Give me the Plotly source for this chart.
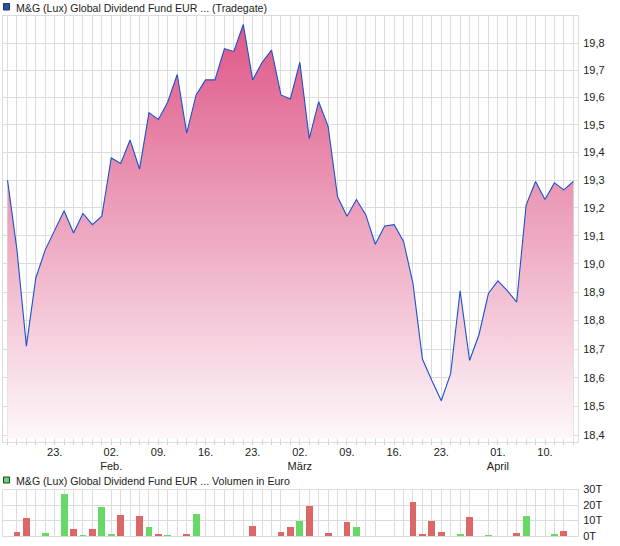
import plotly.graph_objects as go

# ---------------- data ----------------
price = [19.30, 19.05, 18.71, 18.95, 19.05, 19.12, 19.19, 19.11, 19.18, 19.14,
         19.17, 19.38, 19.36, 19.445, 19.34, 19.545, 19.52, 19.585, 19.685, 19.47,
         19.61, 19.665, 19.665, 19.78, 19.77, 19.87, 19.665, 19.73, 19.775, 19.61,
         19.595, 19.73, 19.45, 19.585, 19.495, 19.24, 19.17, 19.23, 19.175, 19.07,
         19.135, 19.14, 19.08, 18.93, 18.665, 18.59, 18.52, 18.615, 18.905, 18.66,
         18.75, 18.895, 18.94, 18.905, 18.865, 19.21, 19.295, 19.23, 19.29, 19.265,
         19.295]

# volume in thousands of euro (T)
volume = [0, 3.0, 12.0, 0, 2.3, 0, 27.2, 4.9, 0.5, 5.0,
          19.0, 1.7, 13.8, 0, 13.2, 6.2, 1.7, 1.0, 0, 1.7,
          14.4, 0, 0, 0, 0, 0, 6.7, 0, 0, 3.0,
          6.1, 9.9, 19.5, 0, 2.3, 0, 9.2, 6.1, 0, 0,
          0, 0, 0, 22.0, 1.7, 9.9, 3.0, 0, 1.7, 12.5,
          0, 1.0, 0, 0, 2.3, 13.2, 0, 0, 1.7, 3.5,
          0]

tick_pos = [5, 11, 16, 21, 26, 31, 36, 41, 46, 52, 57]
tick_text = ["23.", "02.<br>Feb.", "09.", "16.", "23.", "02.<br>März", "09.",
             "16.", "23.", "01.<br>April", "10."]

y_ticks = [18.4, 18.5, 18.6, 18.7, 18.8, 18.9, 19.0, 19.1, 19.2, 19.3,
           19.4, 19.5, 19.6, 19.7, 19.8]
vol_ticks = [0, 10, 20, 30]
vol_tick_text = ["0T", "10T", "20T", "30T"]

title_main = "M&G (Lux) Global Dividend Fund EUR ... (Tradegate)"
title_vol = "M&G (Lux) Global Dividend Fund EUR ... Volumen in Euro"

fill_base = 18.39
# --------------------------------------

idx = list(range(len(price)))
GRID = "#dcdcdc"
FONT = "Arial, Liberation Sans, sans-serif"
TXT = "#222222"

bar_colors = []
for i, v in enumerate(price):
    prev = price[i - 1] if i > 0 else v
    bar_colors.append("#66d966" if v >= prev else "#dd6666")

fig = go.Figure()

fig.add_trace(go.Scatter(
    x=idx, y=[fill_base] * len(idx), mode="lines",
    line=dict(width=0), hoverinfo="skip", showlegend=False,
    xaxis="x", yaxis="y"))

fig.add_trace(go.Scatter(
    x=idx, y=price, mode="lines",
    line=dict(color="#1a52cc", width=1.1),
    fill="tonexty",
    fillgradient=dict(type="vertical",
                      colorscale=[[0, "#fdf7fa"], [1, "#de5485"]],
                      start=fill_base, stop=19.9),
    showlegend=False, xaxis="x", yaxis="y"))

fig.add_trace(go.Bar(
    x=idx, y=volume, marker=dict(color=bar_colors, line=dict(width=0)),
    width=0.72, showlegend=False, xaxis="x2", yaxis="y2"))

H = 520.0
def frac(py):
    return (536.0 - py) / H

xcommon = dict(range=[-0.48, 60.5], showline=True, linecolor=GRID, linewidth=1,
               mirror=True, zeroline=False, fixedrange=True, automargin=False)

fig.update_layout(
    template="none",
    width=620, height=546,
    margin=dict(l=3, r=42, t=16, b=10, autoexpand=False),
    paper_bgcolor="white", plot_bgcolor="white",
    font=dict(family=FONT, size=11, color=TXT),
    separators=", ",
    bargap=0,
    xaxis=dict(
        **xcommon,
        anchor="y",
        tickmode="array", tickvals=tick_pos, ticktext=tick_text,
        showgrid=True, gridcolor=GRID, gridwidth=1,
        ticks="", tickfont=dict(size=11, color=TXT),
        minor=dict(tickmode="linear", tick0=0, dtick=1, showgrid=True,
                   gridcolor=GRID, gridwidth=1, ticks="outside", ticklen=2,
                   tickcolor="#cccccc"),
    ),
    yaxis=dict(
        type="log", domain=[frac(441.5), 1.0],
        range=[2.91123 / 2.302585, 2.99079 / 2.302585],
        side="right", anchor="x", automargin=False,
        tickmode="array", tickvals=y_ticks,
        ticktext=[f"{v:.1f}".replace(".", ",") for v in y_ticks],
        showgrid=True, gridcolor=GRID, gridwidth=1,
        showline=True, linecolor=GRID, mirror=True, zeroline=False,
        ticks="outside", ticklen=2, tickcolor="white",
        tickfont=dict(size=11, color=TXT), fixedrange=True,
    ),
    xaxis2=dict(
        **xcommon,
        anchor="y2", matches="x",
        showticklabels=False, ticks="",
        showgrid=False,
        minor=dict(tickmode="linear", tick0=0, dtick=1, showgrid=True,
                   gridcolor=GRID, gridwidth=1, ticks=""),
    ),
    yaxis2=dict(
        domain=[0.0, frac(489.5)], range=[0, 30],
        side="right", anchor="x2", automargin=False,
        tickmode="array", tickvals=vol_ticks, ticktext=vol_tick_text,
        showgrid=True, gridcolor=GRID, gridwidth=1,
        showline=True, linecolor=GRID, mirror=True, zeroline=False,
        ticks="outside", ticklen=2, tickcolor="white",
        tickfont=dict(size=11, color=TXT), fixedrange=True,
    ),
)

# legend-like headers
fig.add_shape(type="rect", xref="paper", yref="paper",
              x0=(3.5 - 3) / 575, x1=(9.5 - 3) / 575,
              y0=frac(10), y1=frac(3.5),
              fillcolor="#1f4fbf", line=dict(color="#333333", width=1))
fig.add_annotation(xref="paper", yref="paper", x=(14 - 3) / 575, y=frac(7.5),
                   xanchor="left", yanchor="middle", showarrow=False,
                   text=title_main, font=dict(size=10.6, color=TXT))

fig.add_shape(type="rect", xref="paper", yref="paper",
              x0=(3.5 - 3) / 575, x1=(9.5 - 3) / 575,
              y0=frac(483), y1=frac(477),
              fillcolor="#66d966", line=dict(color="#333333", width=1))
fig.add_annotation(xref="paper", yref="paper", x=(14 - 3) / 575, y=frac(480.5),
                   xanchor="left", yanchor="middle", showarrow=False,
                   text=title_vol, font=dict(size=10.6, color=TXT))

fig.write_html("out.html",
               config={"displayModeBar": False},
               post_script="document.body.style.margin='0px';")
